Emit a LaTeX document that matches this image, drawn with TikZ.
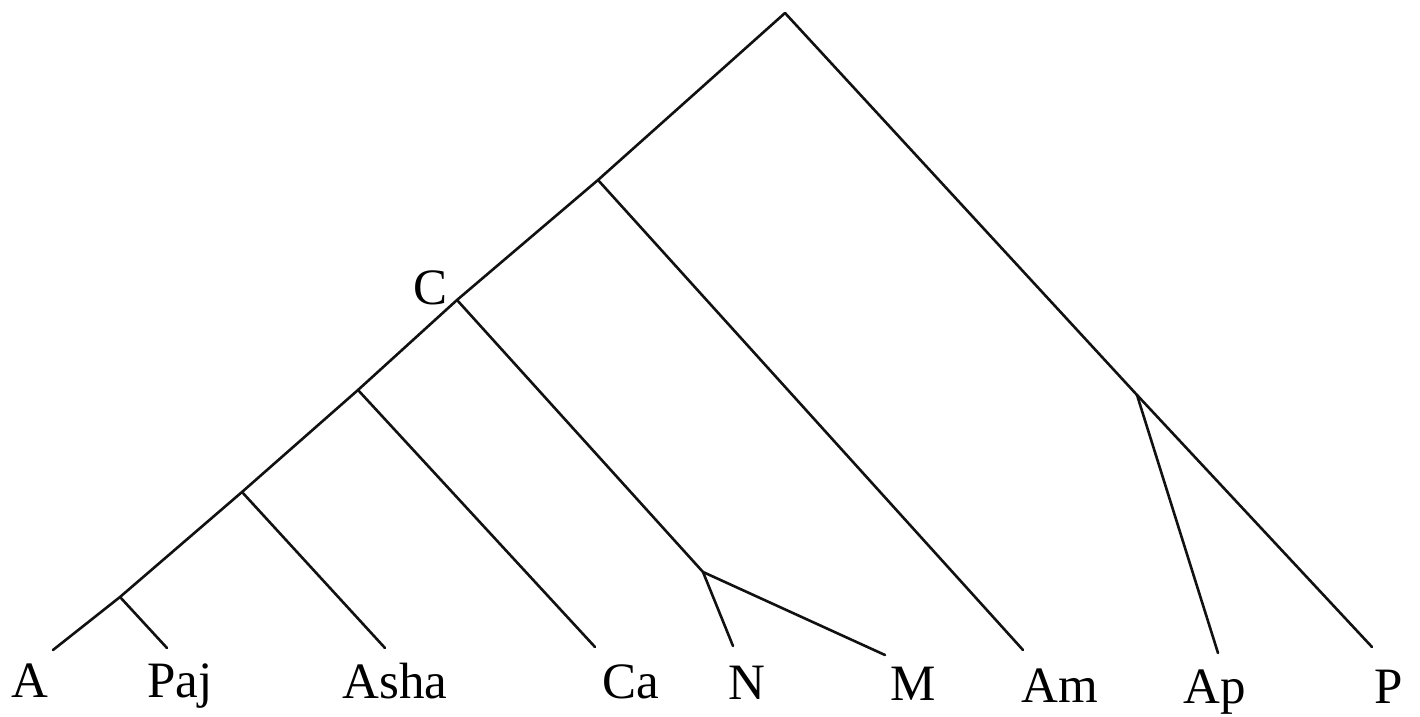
\documentclass[tikz,border=0pt]{standalone}
\usepackage{fontspec}
\setmainfont{Liberation Serif}
\usepackage{xcolor}
\definecolor{treeblack}{HTML}{111111}

\tikzset{
  branch/.style={treeblack, line width=1.3pt, line cap=round, line join=round},
  leaf/.style={anchor=base, inner sep=0pt, font=\fontsize{25.5}{26}\selectfont}
}

\begin{document}
\begin{tikzpicture}[x=0.5pt, y=-0.5pt]
  \useasboundingbox (0,0) rectangle (1420,717);
  % forks
  \coordinate (root) at (785,13);
  \coordinate (fAm) at (598,180);
  \coordinate (fC) at (457,300);
  \coordinate (fCa) at (358,390);
  \coordinate (fAsha) at (242,492);
  \coordinate (fPaj) at (120,597);
  \coordinate (fNM) at (703,572);
  \coordinate (fAp) at (1137,395);
  % line ends
  \coordinate (eA) at (53,650);
  \coordinate (ePaj) at (167,648);
  \coordinate (eAsha) at (385,648);
  \coordinate (eCa) at (595,647);
  \coordinate (eN) at (733,646);
  \coordinate (eM) at (885,655);
  \coordinate (eAm) at (1023,650);
  \coordinate (eAp) at (1218,653);
  \coordinate (eP) at (1372,647);
  % labels
  \node[leaf] (A) at (30,697) {A};
  \node[leaf] (Paj) at (180,697) {Paj};
  \node[leaf] (Asha) at (395,698) {Asha};
  \node[leaf] (Ca) at (631,698) {Ca};
  \node[leaf] (N) at (747,699) {N};
  \node[leaf] (M) at (913,700) {M};
  \node[leaf] (Am) at (1060,702) {Am};
  \node[leaf] (Ap) at (1215,703) {Ap};
  \node[leaf] (P) at (1389,703) {P};
  \node[leaf] (C) at (431,304) {C};
  % tree
  \draw[branch] (eA) -- (fPaj) -- (fAsha) -- (fCa) -- (fC) -- (fAm) -- (root) -- (fAp) -- (eP);
  \draw[branch] (fPaj) -- (ePaj);
  \draw[branch] (fAsha) -- (eAsha);
  \draw[branch] (fCa) -- (eCa);
  \draw[branch] (fC) -- (fNM) -- (eN);
  \draw[branch] (fNM) -- (eM);
  \draw[branch] (fAm) -- (eAm);
  \draw[branch] (fAp) -- (eAp);
\end{tikzpicture}
\end{document}
